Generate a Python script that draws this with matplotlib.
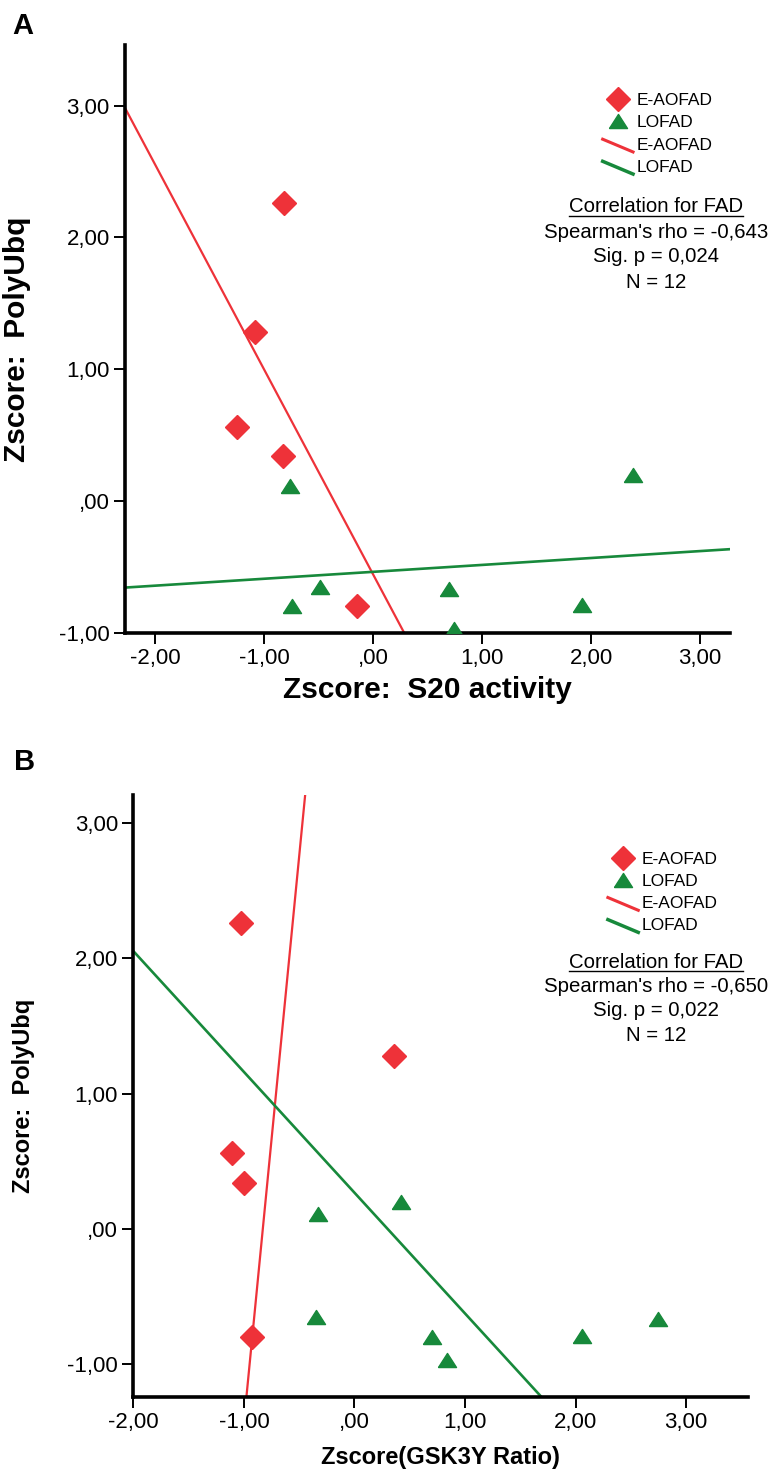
import numpy as np
import matplotlib.pyplot as plt
from matplotlib.lines import Line2D
from matplotlib.legend_handler import HandlerLine2D
from matplotlib.ticker import FuncFormatter

plt.rcParams['font.family'] = ['Liberation Sans', 'DejaVu Sans']

# Panel A: Zscore S20 activity vs Zscore PolyUbq
a_eaofad_x = [-0.82, -1.08, -1.25, -0.83, -0.15]
a_eaofad_y = [2.26, 1.28, 0.56, 0.34, -0.80]
a_lofad_x = [-0.76, -0.49, -0.74, 0.70, 0.74, 1.92, 2.38]
a_lofad_y = [0.11, -0.65, -0.80, -0.67, -0.97, -0.79, 0.20]

# Panel B: Zscore GSK3Y ratio vs Zscore PolyUbq
b_eaofad_x = [-1.03, 0.36, -1.11, -1.00, -0.93]
b_eaofad_y = [2.26, 1.28, 0.56, 0.34, -0.80]
b_lofad_x = [-0.33, 0.42, -0.35, 0.70, 0.84, 2.06, 2.75]
b_lofad_y = [0.11, 0.20, -0.65, -0.80, -0.97, -0.79, -0.67]

# correlation boxes
stats_a = ["Correlation for FAD", "Spearman's rho = -0,643", "Sig. p = 0,024", "N = 12"]
stats_b = ["Correlation for FAD", "Spearman's rho = -0,650", "Sig. p = 0,022", "N = 12"]

RED = '#ee3239'
GREEN = '#17893b'
# slightly flattened triangle
TRI = [(-1, -0.78), (1, -0.78), (0, 0.78), (-1, -0.78)]


def comma_fmt(v, pos):
    s = f"{v:.2f}".replace('.', ',')
    if s.startswith('0,') or s.startswith('-0,'):
        s = s.replace('0,', ',', 1).replace('-', '')
    return s


class HandlerDiag(HandlerLine2D):
    # legend line sample drawn as a short diagonal, like SPSS does
    def create_artists(self, legend, orig_handle, xdescent, ydescent,
                       width, height, fontsize, trans):
        x0 = -xdescent
        x1 = -xdescent + width
        y0 = -ydescent + height * 0.85
        y1 = -ydescent - height * 0.2
        ln = Line2D([x0, x1], [y0, y1], color=orig_handle.get_color(),
                    lw=orig_handle.get_linewidth() + 0.6)
        ln.set_transform(trans)
        return [ln]


def style_axes(ax, xlim, ylim):
    ax.set_xlim(xlim)
    ax.set_ylim(ylim)
    ax.spines['top'].set_visible(False)
    ax.spines['right'].set_visible(False)
    ax.spines['left'].set_linewidth(2.6)
    ax.spines['bottom'].set_linewidth(2.6)
    ax.set_xticks(range(-2, 4))
    ax.set_yticks(range(-1, 4))
    ax.xaxis.set_major_formatter(FuncFormatter(comma_fmt))
    ax.yaxis.set_major_formatter(FuncFormatter(comma_fmt))
    ax.tick_params(length=8, width=1.4, labelsize=16, pad=3)


def draw_panel(ax, ex, ey, lx, ly, xlim, ylim, x_on_y):
    ax.plot(ex, ey, linestyle='none', marker='D', ms=12, color=RED,
            label='E-AOFAD', zorder=3)
    ax.plot(lx, ly, linestyle='none', marker=TRI, ms=13, color=GREEN,
            label='LOFAD', zorder=3)
    xs = np.array([xlim[0] - 1, xlim[1] + 1])
    handles = []
    for x, y, c, lw, name in [(ex, ey, RED, 1.6, 'E-AOFAD'),
                              (lx, ly, GREEN, 1.9, 'LOFAD')]:
        if x_on_y:
            s, b = np.polyfit(y, x, 1)
            ys = (xs - b) / s
        else:
            s, b = np.polyfit(x, y, 1)
            ys = s * xs + b
        h, = ax.plot(xs, ys, color=c, lw=lw, label=name, zorder=2)
        handles.append(h)
    style_axes(ax, xlim, ylim)
    return handles


W, H = 773, 1480
fig = plt.figure(figsize=(W / 100, H / 100), dpi=100)

axA = fig.add_axes([0.1617, 0.5725, 0.7822, 0.3971])
axB = fig.add_axes([0.1725, 0.0561, 0.7952, 0.4068])

hA = draw_panel(axA, a_eaofad_x, a_eaofad_y, a_lofad_x, a_lofad_y,
                (-2.275, 3.27), (-1.0, 3.46), False)
hB = draw_panel(axB, b_eaofad_x, b_eaofad_y, b_lofad_x, b_lofad_y,
                (-2.0, 3.56), (-1.244, 3.21), True)

axA.set_xlabel('Zscore:  S20 activity', fontsize=21.5, fontweight='bold', labelpad=5)
axA.set_ylabel('Zscore:  PolyUbq', fontsize=21.5, fontweight='bold')
axA.yaxis.set_label_coords(-0.155, 0.5)
axB.set_xlabel('Zscore(GSK3Y Ratio)', fontsize=17, fontweight='bold', labelpad=9)
axB.set_ylabel('Zscore:  PolyUbq', fontsize=17, fontweight='bold')
axB.yaxis.set_label_coords(-0.16, 0.5)

# legend anchor (axes fraction), header centre (pixels) and line step (pixels)
panels = [(axA, hA, stats_a, (0.79, 0.918), (656, 207), 25),
          (axB, hB, stats_b, (0.772, 0.906), (656, 962), 24.5)]

headers = []
for ax, handles, stats, anchor, (cx, cy), step in panels:
    mk = ax.get_lines()[:2]
    ax.legend(mk + handles, ['E-AOFAD', 'LOFAD', 'E-AOFAD', 'LOFAD'],
              loc='upper left', bbox_to_anchor=anchor,
              frameon=False, fontsize=12.5, handlelength=1.75,
              handletextpad=0.2, labelspacing=0.4, borderpad=0,
              borderaxespad=0,
              handler_map={handles[0]: HandlerDiag(),
                           handles[1]: HandlerDiag()})
    for i, line in enumerate(stats):
        t = fig.text(cx / W, 1 - (cy + i * step) / H, line,
                     ha='center', va='center', fontsize=14.7)
        if i == 0:
            headers.append(t)

# underline of the correlation header
fig.canvas.draw()
for t in headers:
    bb = t.get_window_extent()
    y = (bb.y0 + 1) / H
    fig.add_artist(Line2D([bb.x0 / W, bb.x1 / W], [y, y], color='black',
                          lw=1.0, transform=fig.transFigure))

fig.text(0.016, 0.992, 'A', fontsize=21, fontweight='bold', va='top')
fig.text(0.018, 0.4945, 'B', fontsize=21, fontweight='bold', va='top')

fig.savefig('out.png', dpi=100)
